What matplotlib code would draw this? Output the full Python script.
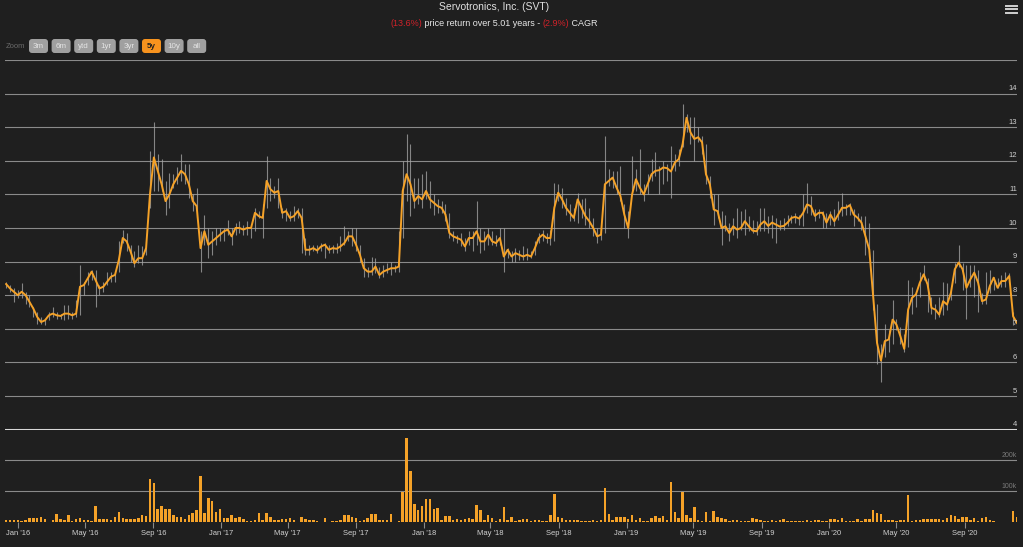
import numpy as np
import matplotlib
matplotlib.use('Agg')
import matplotlib.pyplot as plt
import matplotlib.dates as mdates
from matplotlib.patches import FancyBboxPatch
from matplotlib.lines import Line2D
from matplotlib.offsetbox import TextArea, HPacker, AnchoredOffsetbox
from matplotlib.transforms import blended_transform_factory

plt.rcParams['font.family'] = ['Liberation Sans', 'DejaVu Sans']

# weekly data, first week ending 2015-12-11
start = np.datetime64('2015-12-11')

close = [
    8.33, 8.2, 8.1, 8.0, 8.1, 8.0, 7.8, 7.6, 7.35, 7.2, 7.25, 7.4, 7.45, 7.4, 7.38, 7.45, 7.45, 7.4, 7.45, 8.25,
    8.3, 8.5, 8.7, 8.45, 8.2, 8.25, 8.4, 8.55, 8.6, 9.05, 9.7, 9.6, 9.3, 8.95, 9.1, 9.1, 9.4, 11.0, 12.1, 11.7,
    11.3, 10.8, 11.0, 11.3, 11.5, 11.7, 11.6, 11.3, 10.8, 10.65, 9.4, 9.9, 9.5, 9.6, 9.7, 9.8, 9.9, 9.95, 9.75, 10.0,
    10.0, 9.95, 10.0, 10.0, 10.45, 10.35,
    10.3, 11.4, 11.15, 11.05, 11.1, 10.45, 10.5, 10.3, 10.35, 10.5,
    10.3, 9.35, 9.35, 9.4, 9.33, 9.45, 9.5, 9.35, 9.4, 9.38,
    9.45, 9.55, 9.75, 9.75, 9.5, 9.2, 8.8, 8.7, 8.7, 8.85,
    8.6, 8.7, 8.75, 8.8, 8.8, 8.85, 11.1, 11.6, 11.3, 10.8,
    10.95, 10.85, 11.1, 10.85, 10.75, 10.65, 10.6, 10.4, 9.85, 9.75,
    9.7, 9.65, 9.45, 9.7, 9.7, 9.9, 9.6, 9.6, 9.8, 9.6,
    9.55, 9.7, 9.15, 9.35, 9.15,
    9.25, 9.2, 9.15, 9.2, 9.15, 9.4, 9.7, 9.8, 9.7, 9.7,
    10.6, 11.05, 10.85, 10.6, 10.45, 10.3, 10.85, 10.6, 10.35, 10.2,
    10.0, 9.75, 9.8, 11.3, 11.4, 11.5, 11.2, 10.95, 10.4, 10.0,
    11.0, 11.45, 11.2, 11.0, 11.3, 11.6, 11.7, 11.72, 11.8, 11.78,
    11.68, 11.95, 12.05, 12.5, 13.28, 12.85, 12.65, 12.7, 12.55, 11.6,
    11.3, 10.55, 10.5, 10.0, 10.05, 9.85, 10.05, 9.95, 10.0, 10.2,
    10.05, 9.92, 9.9, 10.1, 10.2,
    10.06, 10.16, 10.1, 10.04, 10.06, 10.16, 10.3, 10.33, 10.28, 10.45,
    10.7, 10.65, 10.36, 10.45, 10.45, 10.16, 10.4, 10.2, 10.4, 10.6,
    10.6, 10.68, 10.4, 10.3, 10.16, 9.76, 9.36, 7.97, 6.58, 6.05,
    6.63, 6.68, 7.27, 7.12, 6.78, 6.4, 7.57, 7.92, 8.02, 8.37,
    8.62, 8.32, 7.62, 7.57, 7.42, 7.82, 7.72, 8.07, 8.77, 8.97,
    8.77, 8.22, 8.47, 8.67, 8.37, 7.82, 7.87, 8.27, 8.52, 8.22,
    8.42, 8.42, 8.57, 7.37, 7.17,
]

high = [
    8.4, 8.3, 8.2, 8.15, 8.35, 8.1, 8.0, 7.65, 7.5, 7.35, 7.3, 7.5, 7.65, 7.5, 7.45, 7.7, 7.7, 7.5, 7.85, 8.9,
    8.4, 8.7, 8.75, 8.75, 8.3, 8.4, 8.7, 8.7, 8.7, 9.6, 9.95, 9.85, 9.5, 9.3, 9.5, 9.45, 9.6, 12.3, 13.15, 12.2,
    12.05, 11.4, 11.65, 11.6, 11.8, 12.2, 11.9, 11.9, 11.0, 11.2, 9.9, 10.4, 10.0, 9.9, 10.0, 10.0, 10.0, 10.25, 10.0, 10.15,
    10.2, 10.1, 10.2, 10.1, 10.6, 10.5,
    10.7, 12.15, 11.5, 11.25, 11.5, 10.6, 10.6, 10.5, 10.65, 10.6,
    10.6, 9.7, 9.5, 9.5, 9.5, 9.55, 9.55, 9.5, 9.5, 9.55,
    9.75, 10.05, 9.9, 10.0, 10.0, 9.5, 9.1, 8.85, 9.15, 9.1,
    8.85, 8.9, 8.95, 9.0, 8.9, 9.9, 12.0, 12.8, 12.5, 11.5,
    11.5, 11.6, 11.7, 11.4, 11.0, 10.85, 10.8, 10.7, 10.45, 9.9,
    9.8, 9.85, 9.7, 9.9, 9.9, 10.8, 10.0, 9.9, 10.0, 9.9,
    9.8, 10.0, 10.0, 9.4, 9.3,
    9.4, 9.35, 9.45, 9.4, 9.3, 9.6, 9.85, 9.95, 9.85, 9.95,
    11.35, 11.3, 11.2, 10.9, 10.7, 10.6, 11.05, 10.85, 10.9, 10.6,
    10.3, 10.0, 10.1, 12.75, 11.75, 11.7, 11.7, 11.85, 10.7, 10.5,
    12.15, 11.75, 12.35, 11.3, 11.6, 12.05, 12.25, 11.85, 12.0, 11.9,
    12.45, 12.2, 12.35, 13.7, 13.4, 13.3, 13.3, 13.0, 12.75, 12.5,
    11.55, 11.0, 11.0, 10.5, 10.4, 10.15, 10.3, 10.6, 10.5, 10.55,
    10.35, 10.25, 10.2, 10.6, 10.6,
    10.35, 10.4, 10.3, 10.25, 10.3, 10.4, 10.4, 10.45, 10.4, 11.0,
    11.35, 10.95, 10.55, 10.55, 10.5, 10.45, 10.5, 10.55, 10.8, 11.05,
    10.7, 10.75, 10.55, 10.45, 10.35, 10.35, 10.15, 9.35, 7.75, 6.55,
    7.15, 6.95, 7.85, 7.3, 7.05, 6.85, 8.45, 8.25, 8.05, 8.7,
    8.9, 8.5, 7.95, 7.75, 7.95, 8.4, 8.35, 8.25, 8.95, 9.5,
    8.95, 8.9, 8.9, 8.9, 8.75, 8.05, 8.7, 8.75, 8.55, 8.5,
    8.6, 8.7, 8.65, 7.5, 7.45,
]

low = [
    8.2, 8.1, 7.8, 7.9, 7.9, 7.75, 7.65, 7.35, 7.15, 7.15, 7.1, 7.25, 7.35, 7.3, 7.3, 7.25, 7.3, 7.3, 7.35, 7.4,
    8.0, 8.3, 8.45, 7.65, 8.0, 8.1, 8.3, 8.4, 8.4, 8.7, 9.55, 9.3, 9.0, 8.85, 8.95, 8.9, 9.2, 10.6, 11.1, 11.1,
    11.1, 10.4, 10.6, 11.2, 11.3, 11.4, 11.3, 10.9, 10.5, 10.3, 8.7, 9.5, 9.1, 9.2, 9.5, 9.6, 9.6, 9.8, 9.5, 9.8,
    9.85, 9.8, 9.8, 9.7, 9.9, 10.3,
    9.7, 10.6, 10.8, 10.9, 10.6, 10.3, 10.2, 10.2, 10.2, 10.3,
    9.25, 9.2, 9.2, 9.3, 9.25, 9.3, 9.1, 9.25, 9.25, 9.25,
    9.3, 9.5, 9.6, 9.45, 9.3, 9.0, 8.55, 8.55, 8.6, 8.65,
    8.5, 8.55, 8.65, 8.6, 8.7, 8.7, 9.7, 10.8, 10.35, 10.6,
    10.7, 10.6, 10.85, 10.6, 10.4, 10.45, 10.45, 10.2, 9.7, 9.6,
    9.55, 9.45, 9.3, 9.5, 9.3, 9.5, 9.25, 9.35, 9.5, 9.5,
    9.45, 9.5, 8.7, 9.1, 9.0,
    9.0, 9.05, 9.05, 9.05, 9.1, 9.2, 9.55, 9.6, 9.55, 9.5,
    9.6, 10.8, 10.6, 10.4, 10.2, 10.2, 10.15, 10.3, 10.1, 10.0,
    9.75, 9.55, 9.65, 9.85, 11.25, 11.2, 11.0, 10.8, 10.0, 9.7,
    11.0, 11.1, 11.0, 10.8, 11.0, 11.4, 11.55, 11.0, 11.3, 11.4,
    10.9, 11.7, 11.85, 12.4, 12.85, 12.5, 12.0, 12.55, 12.2, 11.3,
    10.9, 10.1, 10.3, 9.5, 9.9, 9.6, 9.8, 9.7, 9.95, 9.8,
    9.9, 9.85, 9.8, 9.9, 9.9,
    9.85, 9.7, 9.55, 9.95, 9.95, 10.05, 10.15, 10.15, 10.1, 10.05,
    10.45, 10.4, 10.2, 10.3, 10.0, 10.0, 10.1, 10.05, 10.25, 10.35,
    10.4, 10.4, 10.05, 10.2, 9.95, 9.2, 9.15, 7.55, 5.95, 5.4,
    6.15, 6.3, 6.55, 6.95, 6.55, 6.3, 6.45, 7.45, 7.65, 7.95,
    8.45, 7.5, 7.45, 7.3, 7.35, 7.4, 7.55, 7.85, 8.35, 8.85,
    8.15, 7.3, 8.25, 7.95, 7.5, 7.75, 7.75, 8.05, 8.15, 8.2,
    8.25, 8.25, 8.35, 7.1, 7.05,
]

# weekly volume, thousands of shares
volume_k = [
    5, 5, 5, 5, 3, 5, 13, 13, 13, 16, 9, 1, 5, 27, 11, 8, 24, 3, 9, 13,
    5, 8, 3, 51, 10, 9, 11, 8, 16, 32, 14, 11, 10, 10, 14, 21, 18, 138, 125, 42,
    52, 42, 42, 21, 17, 17, 10, 22, 29, 38, 150, 30, 79, 67, 33, 42, 13, 13, 23, 13,
    15, 9, 4, 3, 8, 30, 5, 30, 16, 8, 8, 10, 10, 14, 5, 1, 16, 10, 8, 8,
    3, 1, 13, 1, 3, 3, 8, 24, 22, 15, 14, 3, 8, 14, 27, 27, 5, 8, 8, 27,
    1, 3, 98, 272, 165, 57, 38, 53, 73, 75, 43, 46, 8, 20, 20, 5, 11, 5, 10, 14,
    9, 54, 40, 8, 22, 13, 3, 11, 49, 8, 16, 3,
    5, 11, 9, 3, 8, 5, 3, 3, 23, 90, 15, 12, 5, 8, 8, 8, 3, 3, 3, 5,
    3, 5, 111, 27, 5, 16, 16, 16, 10, 22, 8, 12, 3, 3, 14, 18, 13, 20, 8, 128,
    33, 13, 96, 22, 14, 49, 5, 3, 33, 3, 36, 15, 13, 9, 3, 8, 8, 2, 2, 2,
    13, 11, 8, 2, 2, 5, 2, 8, 11, 2, 2, 3, 3, 3, 5, 3, 5, 5, 3, 3,
    9, 10, 8, 12, 2, 2, 2, 9, 2, 9, 10, 40, 29, 25, 5, 5, 8, 3, 5, 5,
    88, 3, 5, 8, 9, 11, 9, 11, 10, 8, 14, 22, 18, 9, 15, 16, 5, 13, 4, 14,
    15, 8, 3, 1, 1, 1, 1, 36, 16,
]

price_ticks = list(range(4, 15))
vol_ticks = [100, 200]
title = 'Servotronics, Inc. (SVT)'
subtitle = [('(13.6%)', 'red'), (' price return over 5.01 years - ', 'white'),
            ('(2.9%)', 'red'), (' CAGR', 'white')]
buttons = ['3m', '6m', 'ytd', '1yr', '3yr', '5y', '10y', 'all']
active = '5y'

dates = start + np.arange(len(close)) * np.timedelta64(7, 'D')

W, H = 1023, 547
bg = '#1f1f1f'
orange = '#f5a228'
grid_c = '#8a8a8a'
text_c = '#d0d0d0'


def fx(px):
    return px / W


def fy(py):
    return 1 - py / H


fig = plt.figure(figsize=(W / 100, H / 100), dpi=100, facecolor=bg)
ax = fig.add_axes([fx(5), fy(429.5), fx(1017) - fx(5), fy(60) - fy(429.5)])
axv = fig.add_axes([fx(5), fy(522), fx(1017) - fx(5), fy(430) - fy(522)], sharex=ax)

for a in (ax, axv):
    a.set_facecolor(bg)
    for s in a.spines.values():
        s.set_visible(False)

# price pane
ax.vlines(dates, low, high, colors='#a8a8a8', lw=0.8, alpha=0.75, zorder=2)
ax.plot(dates, close, color=orange, lw=1.4, zorder=3)
ax.set_ylim(4, 15)
ax.set_yticks(range(5, 16))
ax.grid(axis='y', color=grid_c, lw=0.8, zorder=1)
ax.axhline(4, color='#d8d8d8', lw=2.2, zorder=4)
ax.tick_params(left=False, labelleft=False, bottom=False, labelbottom=False)
tr = blended_transform_factory(ax.transAxes, ax.transData)
for v in price_ticks:
    ax.text(1.0, v + 0.04, str(v), transform=tr, ha='right', va='bottom',
            color=text_c, fontsize=5.5)

# volume pane
axv.bar(dates, volume_k, width=4.5, color=orange, zorder=3)
axv.set_ylim(0, 297)
axv.set_yticks(vol_ticks)
axv.grid(axis='y', color=grid_c, lw=0.8, zorder=1)
axv.tick_params(axis='y', left=False, labelleft=False)
trv = blended_transform_factory(axv.transAxes, axv.transData)
for v in vol_ticks:
    axv.text(1.0, v + 4, f'{v}k', transform=trv, ha='right', va='bottom',
             color='#7a7a7a', fontsize=5)
axv.xaxis.set_major_locator(mdates.MonthLocator(bymonth=[1, 5, 9]))
axv.xaxis.set_major_formatter(mdates.DateFormatter("%b '%y"))
axv.tick_params(axis='x', colors=text_c, color='#8a8a8a', length=4, width=0.8,
                labelsize=5.5, pad=2)
axv.set_xlim(dates[0] - np.timedelta64(2, 'D'), dates[-1])

# titles
fig.text(fx(494), fy(6.5), title, ha='center', va='center', color='#e0e0e0', fontsize=7.5)
colors = {'red': '#d0222a', 'white': '#e8e8e8'}
parts = [TextArea(t, textprops=dict(color=colors[c], fontsize=6.5)) for t, c in subtitle]
box = HPacker(children=parts, pad=0, sep=0)
fig.add_artist(AnchoredOffsetbox(loc='center', child=box, frameon=False,
                                 bbox_to_anchor=(fx(494), fy(23.5)),
                                 bbox_transform=fig.transFigure, pad=0, borderpad=0))

# range selector
fig.text(fx(6), fy(46), 'Zoom', ha='left', va='center', color='#6a6a6a', fontsize=5.5)
bx = 29
for b in buttons:
    on = b == active
    p = FancyBboxPatch((bx / 100, (H - 53) / 100), 19 / 100, 14 / 100,
                       boxstyle='round,pad=0,rounding_size=0.03',
                       transform=fig.dpi_scale_trans,
                       fc='#f7931e' if on else '#a0a0a0', ec='none')
    fig.add_artist(p)
    fig.text(fx(bx + 9.5), fy(46), b, ha='center', va='center', fontsize=5.8,
             color='#202020' if on else '#e4e4e4', fontweight='bold' if on else 'normal')
    bx += 22.6

# menu icon
for yy in (5.5, 9.0, 12.5):
    fig.add_artist(Line2D([fx(1006), fx(1017)], [fy(yy), fy(yy)], color='#d0d0d0',
                          lw=1.4, transform=fig.transFigure))

fig.savefig('out.png', dpi=100, facecolor=bg)
